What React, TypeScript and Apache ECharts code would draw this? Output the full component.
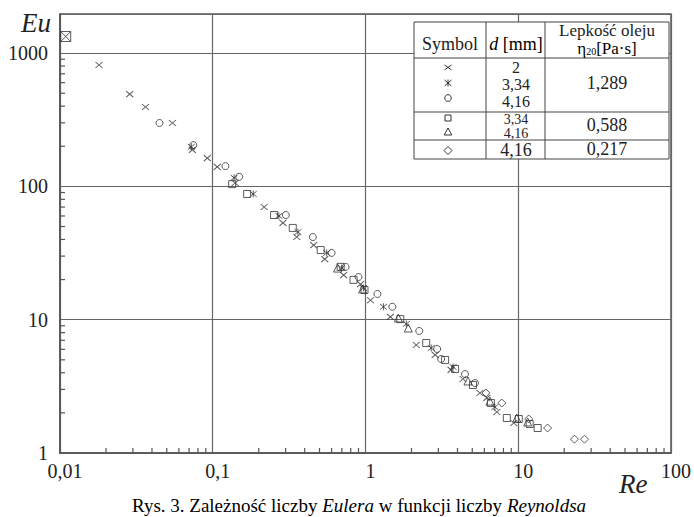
import React, { useEffect, useRef } from "react";
import * as echarts from "echarts";

// ---- data (Re, Eu) ----
const xTickLabels = ["0,01", "0,1", "1", "10", "100"];
const yTickLabels = ["1", "10", "100", "1000"];

const minorXTicks = [
  0.02, 0.03, 0.04, 0.05, 0.06, 0.07, 0.08, 0.09,
  0.2, 0.3, 0.4, 0.5, 0.6, 0.7, 0.8, 0.9,
  2, 3, 4, 5, 6, 7, 8, 9,
  20, 30, 40, 50, 60, 70, 80, 90,
];
const minorYTicks = [
  2, 3, 4, 5, 6, 7, 8, 9,
  20, 30, 40, 50, 60, 70, 80, 90,
  200, 300, 400, 500, 600, 700, 800, 900,
];

// d = 2 mm, eta = 1,289
const crossD2: [number, number][] = [
  [0.018, 814], [0.0286, 493], [0.0363, 394], [0.0545, 299], [0.0735, 188],
  [0.0921, 163], [0.107, 140], [0.14, 106], [0.217, 70.1], [0.288, 53.2],
  [0.355, 41.7], [0.458, 36.3], [0.541, 28.5], [0.719, 21.6], [0.928, 18.5],
  [1.078, 14.0], [1.455, 10.5], [2.149, 6.46], [2.858, 5.44], [3.633, 4.2],
  [4.349, 3.59], [5.614, 2.82], [6.235, 2.59], [7.244, 2.03], [9.348, 1.68],
];
// d = 3,34 mm, eta = 1,289
const starD334: [number, number][] = [
  [0.0724, 198], [0.138, 116], [0.184, 87.7], [0.271, 60.0], [0.361, 45.5],
  [0.557, 31.7], [0.698, 24.4], [0.97, 17.3], [1.31, 12.5], [1.85, 9.29],
  [2.692, 6.13], [3.744, 4.42], [7.03, 2.21],
];
// d = 4,16 mm, eta = 1,289
const circleD416: [number, number][] = [
  [0.0448, 299], [0.0746, 204], [0.121, 142], [0.149, 118], [0.301, 61.0],
  [0.452, 41.7], [0.6, 31.7], [0.741, 24.9], [0.9, 20.9], [1.197, 15.6],
  [1.499, 12.5], [2.248, 8.23], [2.945, 6.03], [3.127, 5.07], [4.482, 3.91],
  [5.206, 3.35],
];
// d = 3,34 mm, eta = 0,588
const squareD334: [number, number][] = [
  [0.134, 104], [0.168, 87.7], [0.252, 61.0], [0.334, 48.8], [0.509, 33.3],
  [0.687, 24.9], [0.835, 19.9], [0.985, 16.7], [1.69, 10.1], [2.497, 6.69],
  [3.32, 4.99], [3.858, 4.27], [5.052, 3.24], [6.62, 2.37], [8.417, 1.83],
  [10.08, 1.8], [11.88, 1.65], [13.4, 1.54],
];
// d = 4,16 mm, eta = 0,588
const triangleD416: [number, number][] = [
  [0.657, 24.4], [0.956, 17.0], [1.641, 10.3], [1.906, 8.66], [4.688, 3.47],
  [6.522, 2.45], [9.777, 1.83], [11.53, 1.71],
];
// d = 4,16 mm, eta = 0,217
const diamondD416: [number, number][] = [
  [6.142, 2.82], [7.806, 2.37], [11.71, 1.8], [15.56, 1.54], [23.34, 1.27],
  [27.13, 1.27],
];
const boxedPoint: [number, number][] = [[0.0109, 1332]];

const INK = "#333";
const SERIF = "Liberation Serif";

const symCross = "path://M0,0L10,10M10,0L0,10";
const symStar = "path://M0,1L10,9M10,1L0,9M5,0L5,10";
const symBox = "path://M0,0L10,0L10,10L0,10Z M0,0L10,10 M10,0L0,10";

function isPow10(v: number) {
  const l = Math.log10(v);
  return Math.abs(l - Math.round(l)) < 1e-6;
}

function scatter(name: string, data: [number, number][], symbol: string, size: number | number[]) {
  return {
    name,
    type: "scatter",
    data,
    symbol,
    symbolSize: size,
    clip: false,
    itemStyle: { color: "transparent", borderColor: INK, borderWidth: 1 },
    emphasis: { disabled: true },
    z: 5,
  };
}

export default function App() {
  const ref = useRef<HTMLDivElement>(null);
  useEffect(() => {
    document.body.style.margin = "0";
    const chart = echarts.init(ref.current!, undefined, { renderer: "svg" });

    // table geometry
    const tL = 414, tT = 22, tR = 669, tB = 159;
    const c1 = 486, c2 = 545;
    const r1 = 58, r2 = 112, r3 = 140;
    const sx = 448;
    const lineStyle = { stroke: "#444", lineWidth: 1 };
    const txt = (text: string, x: number, y: number, fontSize = 18, lineHeight = 18) => ({
      type: "text",
      x, y,
      z: 101,
      style: {
        text,
        fill: "#222",
        fontFamily: SERIF,
        fontSize,
        lineHeight,
        align: "center",
        verticalAlign: "middle",
      },
    });
    const hline = (y: number) => ({ type: "line", z: 101, shape: { x1: tL, y1: y, x2: tR, y2: y }, style: lineStyle });
    const vline = (x: number) => ({ type: "line", z: 101, shape: { x1: x, y1: tT, x2: x, y2: tB }, style: lineStyle });
    const symStroke = { stroke: INK, lineWidth: 1, fill: "none" };

    const option: any = {
      animation: false,
      backgroundColor: "#fff",
      grid: {
        left: 60, right: 20, top: 14, bottom: 64,
        show: true, borderColor: "#555", borderWidth: 1.5, backgroundColor: "transparent",
      },
      xAxis: {
        type: "log",
        logBase: 10,
        min: 0.01,
        max: 100,
        axisLine: { show: true, lineStyle: { color: "#555", width: 1.5 } },
        axisTick: { show: false },
        splitLine: { show: true, lineStyle: { color: "#666", width: 1.2 } },
        axisLabel: {
          margin: 8,
          padding: [0, 0, 0, 10],
          fontFamily: SERIF,
          fontSize: 20,
          color: "#222",
          showMaxLabel: true,
          showMinLabel: true,
          formatter: (v: number) => (isPow10(v) ? xTickLabels[Math.round(Math.log10(v)) + 2] ?? "" : ""),
        },
      },
      yAxis: {
        type: "log",
        logBase: 10,
        min: 1,
        max: 1965,
        axisLine: { show: true, lineStyle: { color: "#555", width: 1.5 } },
        axisTick: { show: false },
        splitLine: { show: true, lineStyle: { color: "#666", width: 1.2 } },
        axisLabel: {
          margin: 12,
          fontFamily: SERIF,
          fontSize: 20,
          color: "#222",
          showMinLabel: true,
          formatter: (v: number) => (isPow10(v) ? yTickLabels[Math.round(Math.log10(v))] ?? "" : ""),
        },
      },
      series: [
        {
          type: "custom",
          silent: true,
          z: 4,
          clip: false,
          data: minorXTicks.map((v) => [v, 1]),
          renderItem: (_p: any, api: any) => {
            const p = api.coord([api.value(0), api.value(1)]);
            return { type: "line", shape: { x1: p[0], y1: p[1], x2: p[0], y2: p[1] - 5 }, style: { stroke: "#555", lineWidth: 1.2 } };
          },
        },
        {
          type: "custom",
          silent: true,
          z: 4,
          clip: false,
          data: minorYTicks.map((v) => [0.01, v]),
          renderItem: (_p: any, api: any) => {
            const p = api.coord([api.value(0), api.value(1)]);
            return { type: "line", shape: { x1: p[0], y1: p[1], x2: p[0] + 5, y2: p[1] }, style: { stroke: "#555", lineWidth: 1.2 } };
          },
        },
        scatter("d=2, 1,289", crossD2, symCross, [7, 6]),
        scatter("d=3,34, 1,289", starD334, symStar, [7, 7]),
        scatter("d=4,16, 1,289", circleD416, "circle", 7),
        scatter("d=3,34, 0,588", squareD334, "rect", 7),
        scatter("d=4,16, 0,588", triangleD416, "triangle", 8),
        scatter("d=4,16, 0,217", diamondD416, "diamond", 8),
        scatter("marker", boxedPoint, symBox, 10),
      ],
      graphic: [
        {
          type: "text", x: 21, y: 23, z: 50,
          style: { text: "Eu", fill: "#222", fontFamily: SERIF, fontSize: 27, fontStyle: "italic", verticalAlign: "middle" },
        },
        {
          type: "text", x: 619, y: 484, z: 50,
          style: { text: "Re", fill: "#222", fontFamily: SERIF, fontSize: 27, fontStyle: "italic", verticalAlign: "middle" },
        },
        {
          type: "text", x: 359, y: 505, z: 50,
          style: {
            text: "{n|Rys. 3. Zależność liczby }{i|Eulera}{n| w funkcji liczby }{i|Reynoldsa}",
            align: "center",
            verticalAlign: "middle",
            rich: {
              n: { fontFamily: SERIF, fontSize: 19, color: "#222" },
              i: { fontFamily: SERIF, fontSize: 19, fontStyle: "italic", color: "#222" },
            },
          },
        },
        // table
        { type: "rect", z: 100, shape: { x: tL, y: tT, width: tR - tL, height: tB - tT }, style: { fill: "#fff", stroke: "#444", lineWidth: 1 } },
        hline(r1), hline(r2), hline(r3), vline(c1), vline(c2),
        txt("Symbol", 450, 44),
        {
          type: "text", x: 516, y: 44, z: 101,
          style: {
            text: "{i|d}{n| [mm]}",
            align: "center",
            verticalAlign: "middle",
            rich: {
              n: { fontFamily: SERIF, fontSize: 18, color: "#222" },
              i: { fontFamily: SERIF, fontSize: 18, fontStyle: "italic", color: "#222" },
            },
          },
        },
        txt("Lepkość oleju", 607, 30, 17, 17),
        {
          type: "text", x: 607, y: 48, z: 101,
          style: {
            text: "{n|η}{s|20}{n|[Pa·s]}",
            align: "center",
            verticalAlign: "middle",
            rich: {
              n: { fontFamily: SERIF, fontSize: 17, color: "#222", lineHeight: 16 },
              s: { fontFamily: SERIF, fontSize: 10, color: "#222", lineHeight: 10, padding: [6, 0, 0, 0] },
            },
          },
        },
        txt("2", 516, 67, 16, 16),
        txt("3,34", 516, 84, 16, 16),
        txt("4,16", 516, 101, 16, 16),
        txt("1,289", 607, 83),
        txt("3,34", 516, 119, 14, 14),
        txt("4,16", 516, 133, 14, 14),
        txt("0,588", 607, 125),
        txt("4,16", 516, 150),
        txt("0,217", 607, 149),
        // table symbols
        { type: "line", z: 101, shape: { x1: sx - 3.5, y1: 65, x2: sx + 3.5, y2: 70 }, style: symStroke },
        { type: "line", z: 101, shape: { x1: sx + 3.5, y1: 65, x2: sx - 3.5, y2: 70 }, style: symStroke },
        { type: "line", z: 101, shape: { x1: sx - 3.5, y1: 80, x2: sx + 3.5, y2: 86 }, style: symStroke },
        { type: "line", z: 101, shape: { x1: sx + 3.5, y1: 80, x2: sx - 3.5, y2: 86 }, style: symStroke },
        { type: "line", z: 101, shape: { x1: sx, y1: 79.5, x2: sx, y2: 86.5 }, style: symStroke },
        { type: "circle", z: 101, shape: { cx: sx, cy: 98, r: 3.3 }, style: symStroke },
        { type: "rect", z: 101, shape: { x: sx - 3, y: 115, width: 6, height: 6 }, style: symStroke },
        { type: "polygon", z: 101, shape: { points: [[sx, 128], [sx + 3.8, 135], [sx - 3.8, 135]] }, style: symStroke },
        { type: "polygon", z: 101, shape: { points: [[sx, 146.5], [sx + 4, 150.5], [sx, 154.5], [sx - 4, 150.5]] }, style: symStroke },
      ],
    };
    chart.setOption(option);
    return () => chart.dispose();
  }, []);
  return <div ref={ref} style={{ width: 694, height: 517 }} />;
}
